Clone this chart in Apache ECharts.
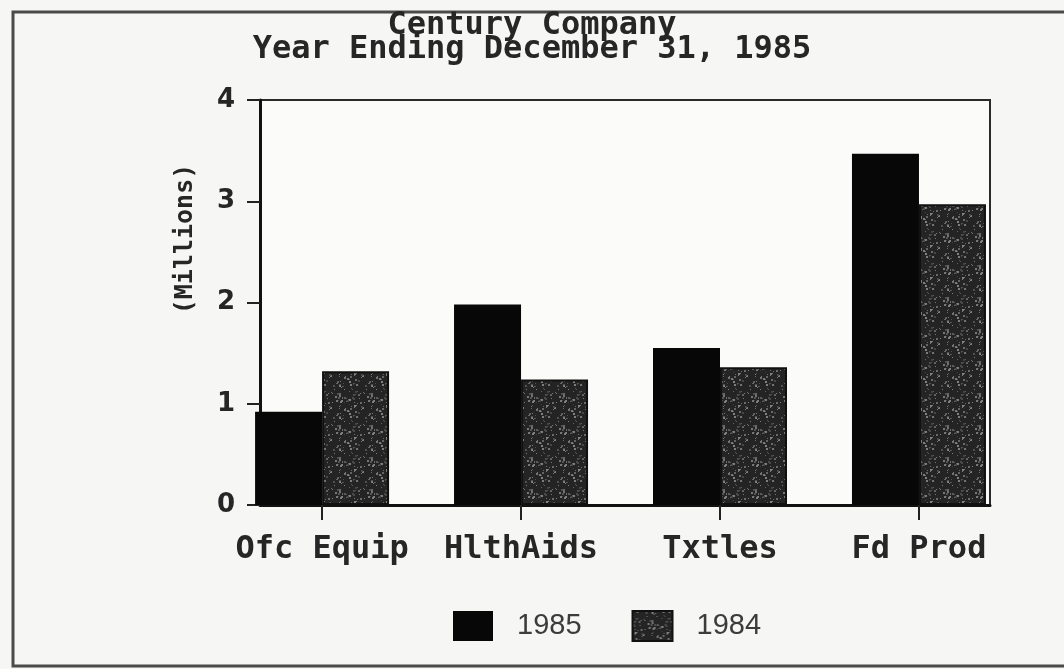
<!DOCTYPE html>
<html>
<head>
<meta charset="utf-8">
<script src="https://cdn.jsdelivr.net/npm/echarts@6/dist/echarts.min.js"></script>
<style>
  html, body { margin: 0; padding: 0; background: #f6f6f4; }
  #chart { width: 1064px; height: 669px; }
</style>
</head>
<body>
<div id="chart"></div>
<script>
// Sales by product line, in millions of dollars
const categories = ['Ofc Equip', 'HlthAids', 'Txtles', 'Fd Prod'];
const sales1985 = [0.92, 1.98, 1.55, 3.47];
const sales1984 = [1.32, 1.24, 1.36, 2.97];
const seriesNames = ['1985', '1984'];
const titleLines = ['Century Company', 'Year Ending December 31, 1985'];
const yAxisTitle = '(Millions)';

// Category positions on the numeric x axis (1..n)
const catPositions = categories.map((c, i) => i + 1);

// Speckled dark fill used for the 1984 bars
function speckleTile() {
  const size = 32;
  const cv = document.createElement('canvas');
  cv.width = size; cv.height = size;
  const ctx = cv.getContext('2d');
  ctx.fillStyle = '#242424';
  ctx.fillRect(0, 0, size, size);
  let s = 7;
  const next = () => { s = (s * 1103515245 + 12345) & 0x7fffffff; return s / 0x7fffffff; };
  for (let k = 0; k < 80; k++) {
    const x = Math.floor(next() * size);
    const y = Math.floor(next() * size);
    const g = 65 + Math.floor(next() * 70);
    ctx.fillStyle = 'rgb(' + g + ',' + g + ',' + g + ')';
    const r = 1 + Math.floor(next() * 2);
    ctx.fillRect(x, y, r, r);
  }
  return cv;
}

const monoFont = 'DejaVu Sans Mono';
const chart = echarts.init(document.getElementById('chart'), null, { renderer: 'canvas' });

chart.setOption({
  backgroundColor: '#f6f6f4',
  animation: false,
  title: {
    text: titleLines.join('\n'),
    left: 'center',
    top: 9,
    textStyle: {
      fontFamily: monoFont,
      fontSize: 32,
      fontWeight: 'bold',
      lineHeight: 24,
      color: '#262626'
    }
  },
  graphic: [
    {
      type: 'rect',
      z: -1,
      shape: { x: 13, y: 12, width: 1100, height: 654 },
      style: { fill: null, stroke: '#4a4a4a', lineWidth: 3 }
    },
    {
      type: 'text',
      x: 185,
      y: 239,
      rotation: Math.PI / 2,
      style: {
        text: yAxisTitle,
        fontFamily: monoFont,
        fontSize: 25,
        fontWeight: 'bold',
        fill: '#262626',
        align: 'center',
        verticalAlign: 'middle'
      }
    }
  ],
  legend: {
    left: 453,
    top: 610,
    padding: 0,
    itemWidth: 40,
    itemHeight: 30,
    itemGap: 50,
    icon: 'rect',
    data: seriesNames,
    textStyle: {
      fontFamily: 'Liberation Sans',
      fontSize: 29,
      color: '#3c3c3c',
      padding: [0, 0, 0, 19]
    }
  },
  grid: {
    left: 260,
    top: 100,
    right: 74,
    bottom: 164,
    show: true,
    backgroundColor: '#fbfbfa',
    borderColor: '#2a2a2a',
    borderWidth: 2
  },
  xAxis: {
    type: 'value',
    min: 0.688,
    max: 4.357,
    splitLine: { show: false },
    axisLine: { show: true, onZero: false, lineStyle: { color: '#111', width: 3 } },
    axisTick: {
      show: true,
      customValues: catPositions,
      length: 15,
      lineStyle: { color: '#222', width: 2 }
    },
    axisLabel: {
      customValues: catPositions,
      margin: 29,
      formatter: v => categories[Math.round(v) - 1] || '',
      fontFamily: monoFont,
      fontSize: 32,
      fontWeight: 'bold',
      color: '#262626'
    }
  },
  yAxis: {
    type: 'value',
    min: 0,
    max: 4,
    interval: 1,
    splitLine: { show: false },
    axisLine: { show: true, lineStyle: { color: '#111', width: 3 } },
    axisTick: { show: true, length: 13, lineStyle: { color: '#222', width: 2 } },
    axisLabel: {
      margin: 25,
      fontFamily: 'DejaVu Sans',
      fontSize: 26,
      fontWeight: 'bold',
      color: '#262626'
    }
  },
  series: [
    {
      name: seriesNames[0],
      type: 'bar',
      barWidth: 67,
      barGap: '0%',
      itemStyle: { color: '#070707' },
      data: sales1985.map((v, i) => [catPositions[i], v])
    },
    {
      name: seriesNames[1],
      type: 'bar',
      barWidth: 67,
      barGap: '0%',
      itemStyle: {
        color: { image: speckleTile(), repeat: 'repeat' },
        borderColor: '#111',
        borderWidth: 2
      },
      data: sales1984.map((v, i) => [catPositions[i], v])
    }
  ]
});
</script>
</body>
</html>
